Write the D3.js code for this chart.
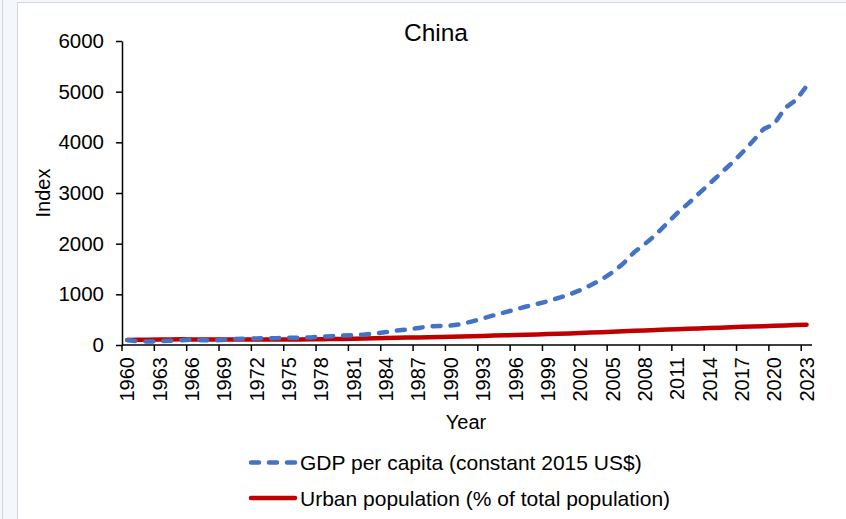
<!DOCTYPE html>
<html><head><meta charset="utf-8">
<script src="https://cdn.jsdelivr.net/npm/d3@7"></script>
<style>
html,body{margin:0;padding:0;background:#f4f7fb;}
svg{display:block;font-family:"Liberation Sans",Arial,sans-serif;}
</style></head><body>
<svg id="c" width="846" height="519"></svg>
<script>
const years = d3.range(1960, 2024);
const gdpIndex = [100,73,68,73,84,96,104,96,90,103,120,126,128,135,136,145,140,149,165,175,
186,193,207,226,256,286,306,336,367,376,384,414,467,525,587,645,702,759,810,864,
929,998,1082,1183,1295,1434,1610,1829,1995,2173,2391,2603,2790,2987,3185,3383,3580,3790,4020,4260,
4360,4680,4830,5110];
const urbanIndex = [100,102.4,104.8,107.2,109.4,111.7,110.8,109.9,109.0,108.1,107.3,107.2,107.2,107.2,107.1,107.0,109.4,111.8,114.6,117.0,
119.5,123.8,128.0,132.3,136.7,141.2,145.6,150.0,154.3,158.6,163.2,168.6,174.1,179.6,185.3,191.1,197.0,203.0,209.1,215.2,
221.5,229.0,237.2,245.6,254.0,262.5,270.8,279.0,287.3,295.6,303.9,311.8,319.6,327.2,334.9,342.6,350.2,357.8,365.1,372.3,
379.2,385.9,392.3,398.6];
const yTicks = [0,1000,2000,3000,4000,5000,6000];
const seriesNames = ["GDP per capita (constant 2015 US$)","Urban population (% of total population)"];
const title = "China";

const svg = d3.select("#c");
// frame
svg.append("line").attr("x1",2.5).attr("x2",2.5).attr("y1",0).attr("y2",519).attr("stroke","#d3d7dc");
svg.append("rect").attr("x",17.5).attr("y",2.5).attr("width",840).attr("height",530)
  .attr("fill","#fff").attr("stroke","#d3d7dc");

const L=122, R=812, T=41, B=345;
const x = d3.scaleBand().domain(years).range([L,R]);
const y = d3.scaleLinear().domain([0,6000]).range([B,T]);
const cx = d => x(d)+x.bandwidth()/2;

// y axis
const ya = svg.append("g").attr("transform",`translate(${L},0)`)
  .call(d3.axisLeft(y).tickValues(yTicks).tickFormat(d3.format("d")).tickSize(6).tickPadding(12).tickSizeOuter(0));
ya.select(".domain").attr("stroke","#000").attr("stroke-width",1.5);
ya.selectAll(".tick line").attr("stroke","#000").attr("stroke-width",1.5);
ya.selectAll("text").attr("font-size",20.5).attr("fill","#000").attr("font-family","Liberation Sans, Arial");

// x axis
const tickYears = years.filter((d,i)=>i%3===0);
const xa = svg.append("g").attr("transform",`translate(0,${B})`);
xa.append("line").attr("x1",L).attr("x2",R).attr("stroke","#000").attr("stroke-width",1.5);
xa.selectAll("line.t").data(tickYears).join("line").attr("class","t")
  .attr("x1",d=>x(d)).attr("x2",d=>x(d)).attr("y1",0).attr("y2",6).attr("stroke","#000").attr("stroke-width",1.5);
xa.selectAll("text").data(tickYears).join("text")
  .attr("transform",d=>`translate(${cx(d)+7},12) rotate(-90)`)
  .attr("text-anchor","end").attr("font-size",20).text(d=>d);

// lines
const line = d3.line().x((d,i)=>cx(years[i])).y(d=>y(d));
svg.append("path").datum(urbanIndex).attr("d",line).attr("fill","none")
  .attr("stroke","#C00000").attr("stroke-width",4.5).attr("stroke-linecap","round").attr("stroke-linejoin","round");
svg.append("path").datum(gdpIndex).attr("d",line).attr("fill","none")
  .attr("stroke","#4472C4").attr("stroke-width",4.5).attr("stroke-linecap","round").attr("stroke-linejoin","round")
  .attr("stroke-dasharray","8,10");

// titles
svg.append("text").attr("x",436).attr("y",41).attr("text-anchor","middle").attr("font-size",24.5).text(title);
svg.append("text").attr("transform",`translate(50,193) rotate(-90)`).attr("text-anchor","middle").attr("font-size",20).text("Index");
svg.append("text").attr("x",466).attr("y",429).attr("text-anchor","middle").attr("font-size",20).text("Year");

// legend
const lg = [{name:seriesNames[0],color:"#4472C4",dash:"8,10",y:462.5},{name:seriesNames[1],color:"#C00000",dash:null,y:498}];
lg.forEach(o=>{
  svg.append("line").attr("x1",251).attr("x2",295).attr("y1",o.y).attr("y2",o.y)
    .attr("stroke",o.color).attr("stroke-width",4.5).attr("stroke-linecap","round")
    .attr("stroke-dasharray",o.dash);
  svg.append("text").attr("x",300).attr("y",o.y+7.5).attr("font-size",21).text(o.name);
});
</script></body></html>
